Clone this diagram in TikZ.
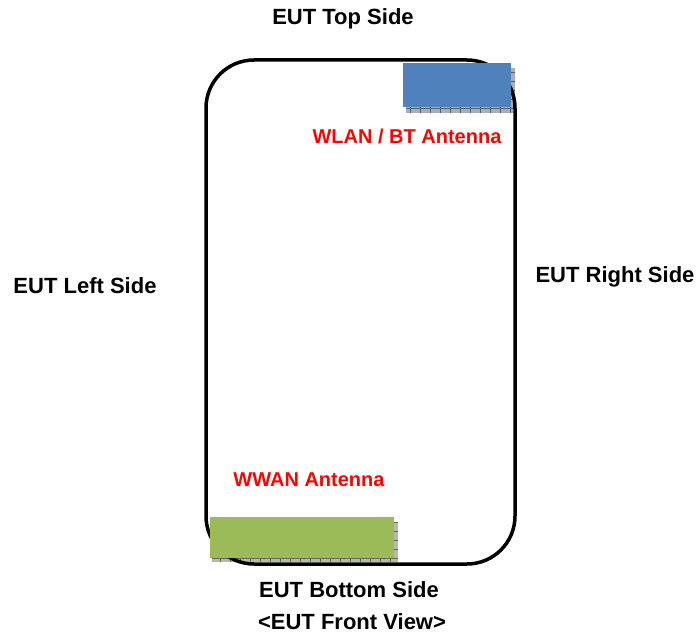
\documentclass[tikz,border=0pt]{standalone}
\usepackage{fontspec}
\setmainfont{Liberation Sans}
\definecolor{cblue}{HTML}{4F81BD}
\definecolor{cgreen}{HTML}{9BBB59}
\definecolor{cbshd}{HTML}{A4AEBE}
\definecolor{cgshd}{HTML}{B4BCA2}
\tikzset{side/.style={font=\fontsize{22}{26}\selectfont\bfseries},
    ant/.style={font=\fontsize{20}{24}\selectfont\bfseries, text=red}}

\begin{document}
\begin{tikzpicture}[x=1pt, y=-1pt]
    \useasboundingbox (0, 0) rectangle (697, 634);
    % antenna shadows
    \fill[cbshd](406, 68)rectangle(515, 113);
    \draw[cbshd!55!black, line width=0.5pt, xstep=10pt, ystep=9pt](406, 68)grid(515, 113);
    \fill[cgshd](212, 522)rectangle(398, 562);
    \draw[cgshd!55!black, line width=0.5pt, xstep=10pt, ystep=9pt](212, 522)grid(398, 562);
    % housing
    \draw[line width=3.5pt, rounded corners=48pt](206, 60)rectangle(515, 564);
    % antennas
    \fill[cblue](403, 63)rectangle(511, 107);
    \fill[cgreen](210, 517)rectangle(394, 558);
    \node[side] (top) at (343, 19) {EUT Top Side};
    \node[side] (left) at (85, 286) {EUT Left Side};
    \node[side] (right) at (615, 277) {EUT Right Side};
    \node[side] (bottom) at (349, 590) {EUT Bottom Side};
    \node[side] (view) at (352, 622) {<EUT Front View>};
    \node[ant] (wlan) at (407, 136) {WLAN / BT Antenna};
    \node[ant] (wwan) at (309, 480) {WWAN Antenna};
\end{tikzpicture}
\end{document}
